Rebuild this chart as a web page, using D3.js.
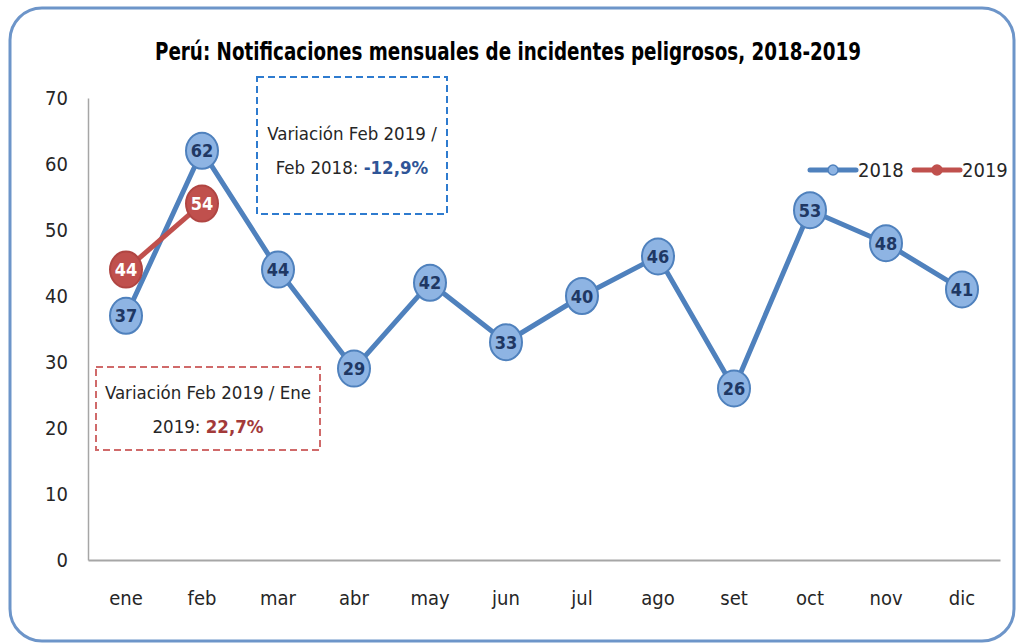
<!DOCTYPE html>
<meta charset="utf-8">
<style>
body { margin: 0; background: #fff; }
text { font-family: "Liberation Sans Narrow", "DejaVu Sans Condensed", "Open Sans", sans-serif; }
.title { font-size: 24px; font-weight: bold; text-anchor: middle; fill: #000; }
.axis text { font-size: 20px; fill: #262626; }
.note { font-size: 18.5px; fill: #262626; text-anchor: middle; }
</style>
<svg width="1022" height="644"></svg>
<script src="https://cdn.jsdelivr.net/npm/d3@7"></script>
<script>

var meses = ["ene", "feb", "mar", "abr", "may", "jun", "jul", "ago", "set", "oct", "nov", "dic"];
var serie2018 = [37, 62, 44, 29, 42, 33, 40, 46, 26, 53, 48, 41];
var serie2019 = [44, 54];
var yTicks = [0, 10, 20, 30, 40, 50, 60, 70];

var svg = d3.select("svg");

// marco redondeado
svg.append("rect")
    .attr("x", 10).attr("y", 8).attr("width", 1004).attr("height", 633)
    .attr("rx", 32).attr("ry", 32)
    .attr("fill", "none")
    .attr("stroke", "#6d95c9")
    .attr("stroke-width", 3);

svg.append("text")
    .attr("class", "title")
    .attr("x", 508).attr("y", 60)
    .attr("textLength", 706).attr("lengthAdjust", "spacingAndGlyphs")
    .text("Perú: Notificaciones mensuales de incidentes peligrosos, 2018-2019");

var x = d3.scaleBand().domain(meses).range([88, 1000]);
var y = d3.scaleLinear().domain([0, 70]).range([560, 98]);
var cx = function(d, i) { return x(meses[i]) + x.bandwidth() / 2; };

var gy = svg.append("g").attr("class", "axis")
    .attr("transform", "translate(88,0)")
    .call(d3.axisLeft(y).tickValues(yTicks).tickSize(0).tickPadding(20));
gy.select(".domain").attr("stroke", "#a6a6a6").attr("stroke-width", 1.5);

var gx = svg.append("g").attr("class", "axis")
    .attr("transform", "translate(0,560)")
    .call(d3.axisBottom(x).tickSize(0).tickPadding(31));
gx.select(".domain").attr("stroke", "#a6a6a6").attr("stroke-width", 2);

// cuadros de nota
svg.append("rect")
    .attr("x", 257).attr("y", 77).attr("width", 190).attr("height", 137)
    .attr("fill", "none").attr("stroke", "#2e7bcf").attr("stroke-width", 2)
    .attr("stroke-dasharray", "7,4");
svg.append("text").attr("class", "note").attr("x", 352).attr("y", 140)
    .text("Variación Feb 2019 /");
var t2 = svg.append("text").attr("class", "note").attr("x", 352).attr("y", 174);
t2.append("tspan").text("Feb 2018: ");
t2.append("tspan").attr("font-weight", "bold").attr("fill", "#2f5597").text("-12,9%");

svg.append("rect")
    .attr("x", 96).attr("y", 367).attr("width", 224).attr("height", 83)
    .attr("fill", "none").attr("stroke", "#d06a6a").attr("stroke-width", 2)
    .attr("stroke-dasharray", "7,4");
svg.append("text").attr("class", "note").attr("x", 208).attr("y", 399)
    .text("Variación Feb 2019 / Ene");
var t4 = svg.append("text").attr("class", "note").attr("x", 208).attr("y", 433);
t4.append("tspan").text("2019: ");
t4.append("tspan").attr("font-weight", "bold").attr("fill", "#a33a3a").text("22,7%");

var line = d3.line().x(cx).y(function(d) { return y(d); });

function drawSeries(data, lineColor, fill, stroke, labelColor) {
  svg.append("path").datum(data)
      .attr("d", line)
      .attr("fill", "none")
      .attr("stroke", lineColor)
      .attr("stroke-width", 5)
      .attr("stroke-linejoin", "round");
  var g = svg.append("g").selectAll("g").data(data).enter().append("g")
      .attr("transform", function(d, i) { return "translate(" + cx(d, i) + "," + y(d) + ")"; });
  g.append("ellipse")
      .attr("rx", 16).attr("ry", 18)
      .attr("fill", fill).attr("stroke", stroke).attr("stroke-width", 2);
  g.append("text")
      .attr("text-anchor", "middle").attr("dy", 6.5)
      .attr("font-size", 18).attr("font-weight", "bold")
      .attr("fill", labelColor)
      .text(function(d) { return d; });
}

drawSeries(serie2018, "#4f81bd", "#8eb4e3", "#4f81bd", "#1f3864");
drawSeries(serie2019, "#c0504d", "#c0504d", "#b04542", "#ffffff");

// leyenda
var legend = [
  { name: "2018", color: "#4f81bd", fill: "#8eb4e3", x: 810 },
  { name: "2019", color: "#c0504d", fill: "#c0504d", x: 914 }
];
var lg = svg.append("g").selectAll("g").data(legend).enter().append("g")
    .attr("transform", function(d) { return "translate(" + d.x + ",170)"; });
lg.append("line").attr("x1", 0).attr("x2", 46)
    .attr("stroke", function(d) { return d.color; }).attr("stroke-width", 5)
    .attr("stroke-linecap", "round");
lg.append("circle").attr("cx", 23).attr("r", 5)
    .attr("fill", function(d) { return d.fill; })
    .attr("stroke", function(d) { return d.color; }).attr("stroke-width", 1.5);
lg.append("text").attr("x", 48).attr("dy", 7)
    .attr("font-size", 20).attr("fill", "#262626")
    .text(function(d) { return d.name; });

</script>
